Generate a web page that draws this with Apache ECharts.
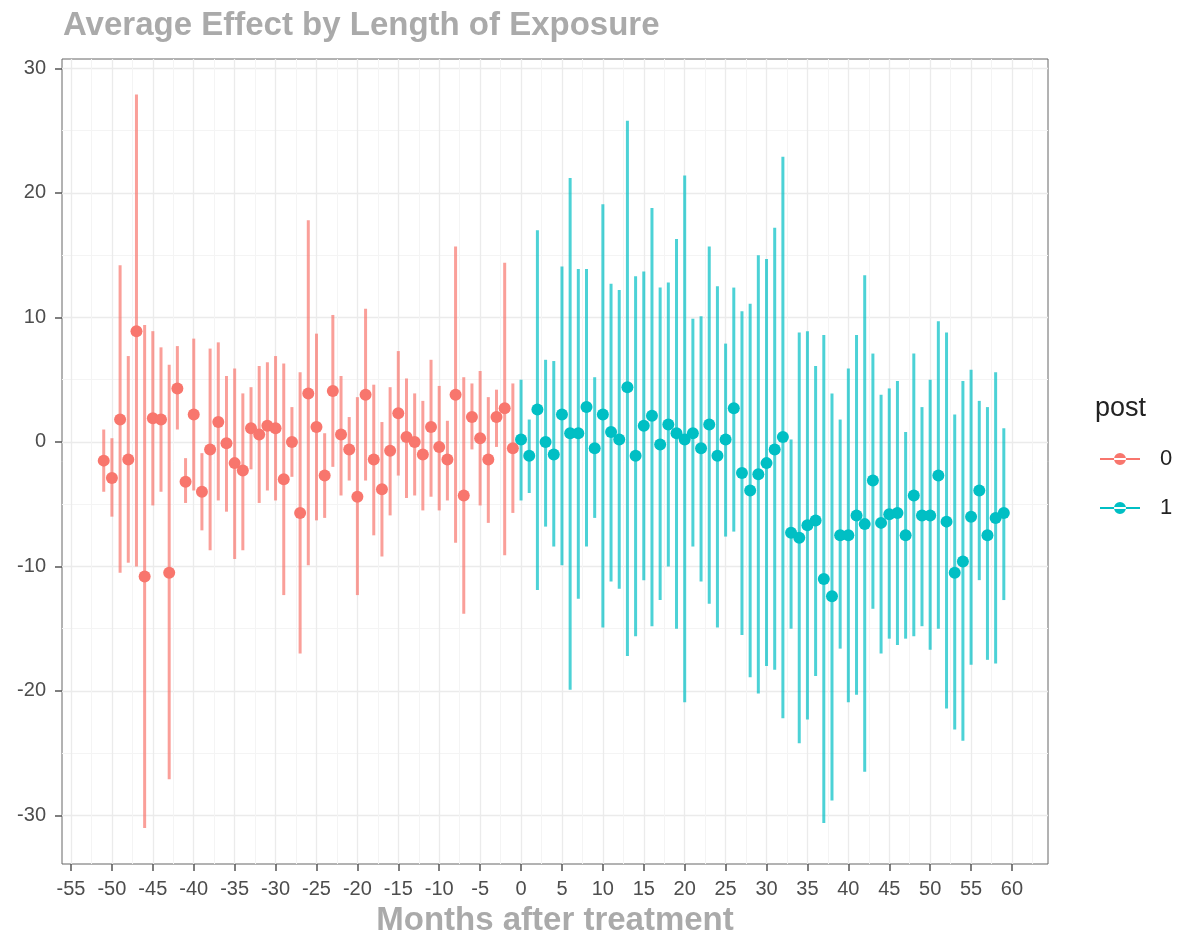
<!DOCTYPE html>
<html>
<head>
<meta charset="utf-8">
<title>Average Effect by Length of Exposure</title>
<script src="https://cdn.jsdelivr.net/npm/echarts@6/dist/echarts.min.js"></script>
<style>
  html, body { margin: 0; padding: 0; background: #fff; }
  #chart { width: 1180px; height: 941px; }
</style>
</head>
<body>
<div id="chart"></div>
<script>
// months before treatment (post = 0)
var preMonths = [-51, -50, -49, -48, -47, -46, -45, -44, -43, -42, -41, -40, -39, -38, -37, -36, -35, -34, -33, -32,
  -31, -30, -29, -28, -27, -26, -25, -24, -23, -22, -21, -20, -19, -18, -17, -16, -15, -14, -13, -12,
  -11, -10, -9, -8, -7, -6, -5, -4, -3, -2, -1];
var preEst = [-1.5, -2.9, 1.8, -1.4, 8.9, -10.8, 1.9, 1.8, -10.5, 4.3, -3.2, 2.2, -4.0, -0.6, 1.6, -0.1, -1.7, -2.3, 1.1, 0.6,
  1.3, 1.1, -3.0, 0.0, -5.7, 3.9, 1.2, -2.7, 4.1, 0.6, -0.6, -4.4, 3.8, -1.4, -3.8, -0.7, 2.3, 0.4, 0.0, -1.0,
  1.2, -0.4, -1.4, 3.8, -4.3, 2.0, 0.3, -1.4, 2.0, 2.7, -0.5];
var preLow = [-4.0, -6.0, -10.5, -9.7, -10.0, -31.0, -5.1, -4.0, -27.1, 1.0, -4.9, -3.9, -7.1, -8.7, -4.7, -5.6, -9.4, -8.7, -2.2, -4.9,
  -3.9, -4.7, -12.3, -2.8, -17.0, -9.9, -6.3, -6.1, -2.0, -4.3, -3.1, -12.3, -3.1, -7.5, -9.2, -5.9, -2.7, -4.5, -4.3, -5.5,
  -4.4, -5.5, -4.7, -8.1, -13.8, -0.6, -5.1, -6.5, -0.4, -9.1, -5.7];
var preHigh = [1.0, 0.3, 14.2, 6.9, 27.9, 9.4, 8.9, 7.6, 6.2, 7.7, -1.3, 8.3, -0.9, 7.5, 8.0, 5.3, 5.9, 3.9, 4.4, 6.1,
  6.4, 6.9, 6.3, 2.8, 5.6, 17.8, 8.7, 0.7, 10.2, 5.3, 2.0, 3.6, 10.7, 4.6, 1.6, 4.4, 7.3, 5.1, 3.9, 3.3,
  6.6, 4.5, 1.7, 15.7, 5.2, 4.7, 5.7, 3.6, 4.2, 14.4, 4.7];

// months after treatment (post = 1)
var postMonths = [0, 1, 2, 3, 4, 5, 6, 7, 8, 9, 10, 11, 12, 13, 14, 15, 16, 17, 18, 19,
  20, 21, 22, 23, 24, 25, 26, 27, 28, 29, 30, 31, 32, 33, 34, 35, 36, 37, 38, 39,
  40, 41, 42, 43, 44, 45, 46, 47, 48, 49, 50, 51, 52, 53, 54, 55, 56, 57, 58, 59];
var postEst = [0.2, -1.1, 2.6, 0.0, -1.0, 2.2, 0.7, 0.7, 2.8, -0.5, 2.2, 0.8, 0.2, 4.4, -1.1, 1.3, 2.1, -0.2, 1.4, 0.7,
  0.2, 0.7, -0.5, 1.4, -1.1, 0.2, 2.7, -2.5, -3.9, -2.6, -1.7, -0.6, 0.4, -7.3, -7.7, -6.7, -6.3, -11.0, -12.4, -7.5,
  -7.5, -5.9, -6.6, -3.1, -6.5, -5.8, -5.7, -7.5, -4.3, -5.9, -5.9, -2.7, -6.4, -10.5, -9.6, -6.0, -3.9, -7.5, -6.1, -5.7];
var postLow = [-4.7, -4.1, -11.9, -6.8, -8.4, -9.9, -19.9, -12.6, -8.4, -6.1, -14.9, -11.2, -11.8, -17.2, -15.6, -11.1, -14.8, -12.7, -10.0, -15.0,
  -20.9, -8.4, -11.2, -13.0, -14.9, -7.6, -7.2, -15.5, -18.9, -20.2, -18.0, -18.3, -22.2, -15.0, -24.2, -22.3, -18.8, -30.6, -28.8, -16.6,
  -20.9, -20.3, -26.5, -13.4, -17.0, -15.8, -16.3, -15.8, -15.6, -14.8, -16.7, -15.0, -21.4, -23.1, -24.0, -17.9, -11.1, -17.5, -17.8, -12.7];
var postHigh = [5.0, 1.8, 17.0, 6.6, 6.5, 14.1, 21.2, 13.9, 13.9, 5.2, 19.1, 12.7, 12.2, 25.8, 13.3, 13.7, 18.8, 12.4, 12.8, 16.3,
  21.4, 9.9, 10.1, 15.7, 12.5, 7.9, 12.4, 10.5, 11.1, 15.0, 14.7, 17.2, 22.9, 0.2, 8.8, 8.9, 6.1, 8.6, 3.9, 1.8,
  5.9, 8.6, 13.4, 7.1, 3.8, 4.3, 4.9, 0.8, 7.1, 2.8, 5.0, 9.7, 8.8, 2.2, 4.9, 5.8, 3.3, 2.8, 5.6, 1.1];

// axis breaks
var xBreaks = [-55, -50, -45, -40, -35, -30, -25, -20, -15, -10, -5, 0, 5, 10, 15, 20, 25, 30, 35, 40, 45, 50, 55, 60];
var xMinor = [-52.5, -47.5, -42.5, -37.5, -32.5, -27.5, -22.5, -17.5, -12.5, -7.5, -2.5, 2.5, 7.5, 12.5, 17.5, 22.5,
  27.5, 32.5, 37.5, 42.5, 47.5, 52.5, 57.5, 62.5];
var yBreaks = [-30, -20, -10, 0, 10, 20, 30];
var yMinor = [-25, -15, -5, 5, 15, 25];

var RED = '#F8766D';
var CYAN = '#00BFC4';

function zip3(a, b, c) {
  var out = [];
  for (var i = 0; i < a.length; i++) out.push([a[i], b[i], c[i]]);
  return out;
}
function zip2(a, b) {
  var out = [];
  for (var i = 0; i < a.length; i++) out.push([a[i], b[i]]);
  return out;
}

// vertical line from low to high for each month
function rangeRenderer(color) {
  return function (params, api) {
    var p1 = api.coord([api.value(0), api.value(1)]);
    var p2 = api.coord([api.value(0), api.value(2)]);
    return {
      type: 'line',
      shape: { x1: p1[0], y1: p1[1], x2: p2[0], y2: p2[1] },
      style: { stroke: color, lineWidth: 3, opacity: 0.7 }
    };
  };
}

var FONT = 'Liberation Sans, Arial, sans-serif';
var legendIcon = 'path://M0,5h40v2h-40z M14,6a6,6 0 1,0 12,0a6,6 0 1,0 -12,0z';
var gridGray = '#ebebeb';
var minorGray = '#f4f4f4';
var axisTxt = { color: '#4d4d4d', fontSize: 20, fontFamily: FONT };
var XMIN = -56.1, XMAX = 64.4, YMIN = -33.9, YMAX = 30.76;

var chart = echarts.init(document.getElementById('chart'), null, { renderer: 'canvas' });
var option = {
  animation: false,
  backgroundColor: '#ffffff',
  title: [{
    text: 'Average Effect by Length of Exposure',
    left: 58, top: 4,
    textStyle: { color: '#aaaaaa', fontSize: 33, fontWeight: 'bold', fontFamily: FONT }
  }, {
    text: 'post',
    left: 1090, top: 390,
    textStyle: { color: '#222', fontSize: 27, fontWeight: 'normal', fontFamily: FONT }
  }],
  legend: {
    orient: 'vertical',
    left: 1095, top: 443,
    itemWidth: 40, itemHeight: 12, itemGap: 27,
    icon: legendIcon,
    data: ['0', '1'],
    textStyle: { color: '#222', fontSize: 22, padding: [0, 0, 0, 15], fontFamily: FONT },
    selectedMode: false
  },
  grid: {
    left: 62, right: 132, top: 59, bottom: 77,
    outerBoundsMode: 'none',
    show: true, borderColor: '#666', borderWidth: 1, backgroundColor: 'transparent'
  },
  xAxis: [{
    type: 'value', min: XMIN, max: XMAX,
    name: 'Months after treatment', nameLocation: 'middle', nameGap: 40,
    nameTextStyle: { color: '#aaaaaa', fontSize: 33, fontWeight: 'bold', fontFamily: FONT },
    axisLine: { show: false, onZero: false },
    axisTick: { show: true, length: 7, customValues: xBreaks, lineStyle: { color: '#555', width: 1.5 } },
    axisLabel: Object.assign({ customValues: xBreaks, margin: 15 }, axisTxt),
    splitLine: { show: true, lineStyle: { color: gridGray, width: 1.3 } }
  }, {
    type: 'value', min: XMIN, max: XMAX, position: 'bottom',
    axisLine: { show: false, onZero: false },
    axisTick: { show: false, customValues: xMinor },
    axisLabel: { show: false, customValues: xMinor },
    splitLine: { show: true, lineStyle: { color: minorGray, width: 1 } }
  }],
  yAxis: [{
    type: 'value', min: YMIN, max: YMAX,
    axisLine: { show: false, onZero: false },
    axisTick: { show: true, length: 7, customValues: yBreaks, lineStyle: { color: '#555', width: 1.5 } },
    axisLabel: Object.assign({ customValues: yBreaks, margin: 16 }, axisTxt),
    splitLine: { show: true, lineStyle: { color: gridGray, width: 1.3 } }
  }, {
    type: 'value', min: YMIN, max: YMAX, position: 'left',
    axisLine: { show: false, onZero: false },
    axisTick: { show: false, customValues: yMinor },
    axisLabel: { show: false, customValues: yMinor },
    splitLine: { show: true, lineStyle: { color: minorGray, width: 1 } }
  }],
  series: [{
    name: '0', type: 'custom', xAxisIndex: 0, yAxisIndex: 0,
    renderItem: rangeRenderer(RED), itemStyle: { color: RED },
    encode: { x: 0, y: [1, 2] },
    data: zip3(preMonths, preLow, preHigh), z: 2
  }, {
    name: '1', type: 'custom', xAxisIndex: 0, yAxisIndex: 0,
    renderItem: rangeRenderer(CYAN), itemStyle: { color: CYAN },
    encode: { x: 0, y: [1, 2] },
    data: zip3(postMonths, postLow, postHigh), z: 2
  }, {
    name: '0', type: 'scatter', xAxisIndex: 0, yAxisIndex: 0,
    symbolSize: 12, itemStyle: { color: RED, opacity: 1 },
    data: zip2(preMonths, preEst), z: 3
  }, {
    name: '1', type: 'scatter', xAxisIndex: 0, yAxisIndex: 0,
    symbolSize: 12, itemStyle: { color: CYAN, opacity: 1 },
    data: zip2(postMonths, postEst), z: 3
  }]
};
chart.setOption(option);
</script>
</body>
</html>
